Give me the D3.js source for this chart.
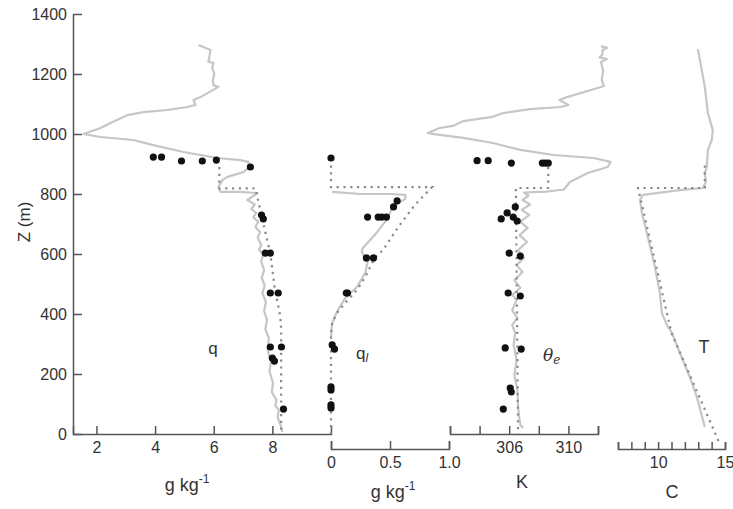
<!DOCTYPE html>
<html><head><meta charset="utf-8">
<script src="https://cdn.jsdelivr.net/npm/d3@7"></script>
<style>body{margin:0;background:#fff}svg{display:block}</style>
</head><body>
<svg id="c" width="733" height="509"></svg>
<script>
// ---------- data ----------
const zTicks = [0,200,400,600,800,1000,1200,1400];
const qTicks = [2,4,6,8];
const qlTicks = [0,0.5,1.0];
const thetaTicks = [302,304,306,308,310,312];
const thetaLabels = [306,310];
const tTicks = [7,8,9,10,11,12,13,14,15];
const tLabels = [10,15];

// measured profiles (gray): [value, z]
const qProfile = [[5.48,1297],[5.89,1280],[5.82,1240],[5.99,1237],[5.95,1220],[6.02,1200],[5.97,1180],[5.99,1163],[6.16,1157],[5.55,1123],[5.31,1113],[5.38,1097],[5.10,1090],[4.42,1080],[3.60,1073],[3.06,1063],[2.48,1037],[2.14,1020],[1.56,1000],[2.14,990],[3.26,980],[3.94,963],[4.97,940],[6.13,920],[6.91,913],[7.18,907],[7.22,890],[7.01,873],[6.47,857],[6.30,847],[6.16,823],[6.23,807],[6.91,807],[7.49,803],[7.15,780],[7.40,765],[7.28,750],[7.45,737],[7.35,722],[7.52,707],[7.42,690],[7.58,673],[7.50,655],[7.62,630],[7.55,615],[7.68,597],[7.62,575],[7.72,547],[7.64,520],[7.74,495],[7.66,470],[7.78,440],[7.72,410],[7.82,380],[7.76,350],[7.88,320],[7.84,280],[7.95,240],[7.90,210],[8.02,170],[7.98,140],[8.14,113],[8.10,95],[8.22,80],[8.18,55],[8.28,30],[8.34,7]];
const qlProfile = [[0.01,807],[0.25,800],[0.50,800],[0.63,797],[0.63,783],[0.57,770],[0.52,753],[0.47,713],[0.37,663],[0.27,620],[0.26,607],[0.31,573],[0.29,537],[0.22,490],[0.12,453],[0.05,407],[0.01,370],[0.0,323]];
const thetaProfile = [[312.2,1293],[312.6,1287],[312.3,1280],[312.3,1265],[312.1,1255],[312.6,1250],[312.2,1240],[312.35,1210],[312.25,1180],[312.4,1160],[312.1,1155],[309.9,1123],[309.4,1113],[310.0,1097],[309.5,1090],[307.4,1083],[305.6,1070],[304.85,1057],[302.9,1043],[302.2,1027],[301.3,1020],[300.5,1003],[301.3,997],[302.9,987],[304.9,970],[306.75,947],[309.0,930],[311.7,920],[312.85,907],[312.65,890],[311.3,870],[310.1,840],[309.7,815],[308.5,808],[307.0,805],[307.3,795],[306.9,780],[307.4,765],[306.85,747],[307.35,730],[306.75,707],[307.25,687],[306.7,663],[307.2,640],[306.6,613],[307.0,587],[306.5,563],[306.9,540],[306.35,513],[306.75,487],[306.2,463],[306.5,447],[306.2,413],[306.55,387],[306.2,363],[306.4,337],[306.3,297],[306.5,247],[306.35,197],[306.55,147],[306.6,97],[306.65,63],[306.75,30],[306.95,20]];
const tProfile = [[12.97,1283],[13.12,1247],[13.49,1157],[13.72,1070],[14.09,1013],[14.01,980],[13.72,947],[13.64,890],[13.49,870],[13.57,840],[13.34,820],[11.63,813],[8.87,797],[8.64,780],[8.79,737],[9.16,670],[9.76,557],[10.13,470],[10.28,403],[10.66,363],[11.03,337],[11.63,270],[12.37,190],[12.90,123],[13.49,23]];

// model profiles (dotted)
const qModel = [[6.19,890],[6.19,819],[7.42,819],[7.55,763],[7.72,690],[7.90,613],[7.95,587],[8.03,523],[8.09,480],[8.18,437],[8.25,403],[8.29,370],[8.30,337],[8.30,0]];
const qlModel = [[0,895],[0,823],[0.856,823],[0.71,763],[0.57,690],[0.44,613],[0.37,587],[0.29,523],[0.22,480],[0.12,437],[0.05,403],[0.01,370],[0,337],[0,0]];
const thetaModel = [[308.64,890],[308.64,820],[306.45,820],[306.6,0]];
const tModel = [[13.49,895],[13.49,820],[8.5,820],[11.0,337],[14.65,-37]];

// aircraft samples (dots)
const qSamples = [[3.94,923],[4.22,923],[4.90,910],[5.61,910],[6.09,913],[7.25,890],[7.63,730],[7.69,717],[7.76,603],[7.93,603],[7.93,470],[8.2,470],[7.93,290],[8.31,290],[8.0,253],[8.07,243],[8.38,83]];
const qlSamples = [[0,920],[0.56,777],[0.53,757],[0.31,723],[0.40,723],[0.43,723],[0.47,723],[0.30,587],[0.36,587],[0.13,470],[0.14,470],[0.01,297],[0.03,283],[0,157],[0,147],[0,97],[0,87]];
const thetaSamples = [[303.83,911],[304.58,911],[306.14,903],[308.24,903],[308.44,903],[308.64,903],[306.41,757],[305.86,737],[305.46,717],[306.27,723],[306.54,710],[306.0,603],[306.75,593],[305.93,470],[306.75,460],[305.73,287],[306.81,283],[306.07,153],[306.14,140],[305.6,83]];

// ---------- drawing ----------
const FONT = "'Liberation Sans', Arial, Helvetica, sans-serif";
const svg = d3.select('#c').style('font-family', FONT);
const y = d3.scaleLinear().domain([0,1400]).range([434,14]);
const xq = d3.scaleLinear().domain([1.2,10]).range([73,331]);
const xql = d3.scaleLinear().domain([0,1]).range([331,449]);
const xth = d3.scaleLinear().domain([302,312]).range([450,598]);
const xT = d3.scaleLinear().domain([7,15]).range([618,725]);

const AX = '#555', TXT = '#333';
function styleAxis(g){
  g.select('.domain').attr('stroke',AX).attr('stroke-width',1.5);
  g.selectAll('.tick line').attr('stroke',AX).attr('stroke-width',1.5);
  g.selectAll('text').attr('fill',TXT).style('font-size','16px').style('font-family',FONT);
}

svg.append('g').attr('transform','translate(73,0)')
  .call(d3.axisLeft(y).tickValues(zTicks).tickFormat(d3.format('d')).tickSizeInner(-9).tickSizeOuter(0).tickPadding(6))
  .call(styleAxis);

svg.append('g').attr('transform','translate(0,434)')
  .call(d3.axisBottom(xq).tickValues(qTicks).tickFormat(d3.format('d')).tickSizeInner(-8).tickSizeOuter(-8).tickPadding(8))
  .call(styleAxis);
svg.append('g').attr('transform','translate(0,449)')
  .call(d3.axisBottom(xql).tickValues(qlTicks).tickFormat(d=>d===0?'0':d3.format('.1f')(d)).tickSizeInner(-8).tickSizeOuter(-8).tickPadding(8))
  .call(styleAxis);
svg.append('g').attr('transform','translate(0,434)')
  .call(d3.axisBottom(xth).tickValues(thetaTicks).tickFormat(d=>thetaLabels.includes(d)?d:'').tickSizeInner(-8).tickSizeOuter(-8).tickPadding(8))
  .call(styleAxis);
svg.append('g').attr('transform','translate(0,449)')
  .call(d3.axisBottom(xT).tickValues(tTicks).tickFormat(d=>tLabels.includes(d)?d:'').tickSizeInner(-7).tickSizeOuter(-7).tickPadding(8))
  .call(styleAxis);

const panels = [
  {x:xq, prof:qProfile, model:qModel, pts:qSamples},
  {x:xql, prof:qlProfile, model:qlModel, pts:qlSamples},
  {x:xth, prof:thetaProfile, model:thetaModel, pts:thetaSamples},
  {x:xT, prof:tProfile, model:tModel, pts:[]}
];
panels.forEach(p=>{
  const line = d3.line().x(d=>p.x(d[0])).y(d=>y(d[1]));
  svg.append('path').datum(p.prof).attr('d',line).attr('fill','none')
    .attr('stroke','#c6c6c6').attr('stroke-width',2.2).attr('stroke-linejoin','round');
  svg.append('path').datum(p.model).attr('d',line).attr('fill','none')
    .attr('stroke','#8a8a8a').attr('stroke-width',2.2).attr('stroke-dasharray','2.2,4.6');
  svg.append('g').selectAll('circle').data(p.pts).join('circle')
    .attr('cx',d=>p.x(d[0])).attr('cy',d=>y(d[1])).attr('r',3.6).attr('fill','#111');
});

// labels
function txt(x,yy,s,size,opts={}){
  const t = svg.append('text').attr('x',x).attr('y',yy).attr('fill',TXT)
    .style('font-size',size+'px').attr('text-anchor',opts.anchor||'middle');
  if(opts.italic) t.style('font-style','italic');
  return t.text(s);
}
svg.append('text').attr('transform','translate(30,222) rotate(-90)').attr('text-anchor','middle')
  .attr('fill',TXT).style('font-size','17px').text('Z (m)');

function unitLabel(cx, base){
  const t = svg.append('text').attr('x',cx).attr('y',base).attr('text-anchor','middle')
    .attr('fill',TXT).style('font-size','18px');
  t.append('tspan').text('g kg');
  t.append('tspan').attr('dy',-8).style('font-size','12px').text('-1');
}
unitLabel(187,491);
unitLabel(393,498);
txt(522,488,'K',18);
txt(672,498,'C',18);

txt(213,354,'q',17);
const ql = svg.append('text').attr('x',356).attr('y',359).attr('fill',TXT).style('font-size','17px');
ql.append('tspan').text('q');
ql.append('tspan').attr('dy',3).style('font-size','12px').style('font-style','italic').text('l');
const th = svg.append('text').attr('x',543).attr('y',361).attr('fill',TXT).style('font-size','17px').style('font-family',"'DejaVu Serif', serif");
th.append('tspan').style('font-style','italic').text('θ');
th.append('tspan').attr('dy',3).style('font-size','12px').style('font-style','italic').text('e');
txt(704,353,'T',18);
</script>
</body></html>
